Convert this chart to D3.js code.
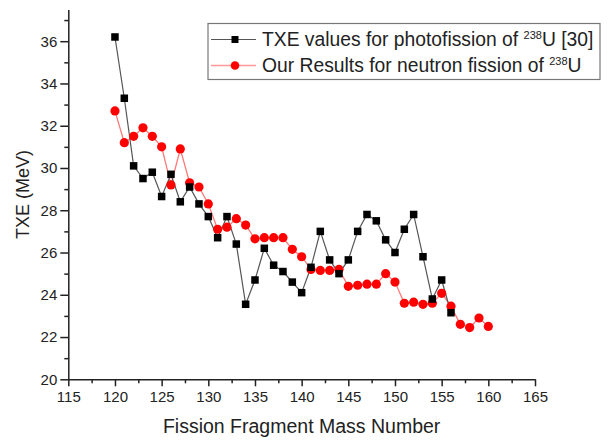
<!DOCTYPE html>
<html>
<head>
<meta charset="utf-8">
<script src="https://cdn.jsdelivr.net/npm/d3@7"></script>
<style>
  body { margin: 0; background: #fff; }
  svg { display: block; font-family: "Liberation Sans", Arial, sans-serif; }
</style>
</head>
<body>
<div id="chart_txe"></div>
<script>
//////// DATA ////////
var photoMass = [120, 121, 122, 123, 124, 125, 126, 127, 128, 129, 130, 131, 132, 133, 134, 135, 136, 137, 138,
                 139, 140, 141, 142, 143, 144, 145, 146, 147, 148, 149, 150, 151, 152, 153, 154, 155, 156];
var photoTXE = [36.2, 33.3, 30.1, 29.5, 29.8, 28.65, 29.7, 28.4, 29.1, 28.3, 27.7, 26.7, 27.7, 26.4, 23.55, 24.7, 26.2, 25.4, 25.1,
                24.6, 24.1, 25.3, 27.0, 25.65, 25.0, 25.65, 27.0, 27.8, 27.5, 26.6, 26.0, 27.1, 27.8, 25.8, 23.8, 24.7, 23.15];

var neutronMass = [120, 121, 122, 123, 124, 125, 126, 127, 128, 129, 130, 131, 132, 133, 134, 135, 136, 137, 138, 139, 140,
                   141, 142, 143, 144, 145, 146, 147, 148, 149, 150, 151, 152, 153, 154, 155, 156, 157, 158, 159, 160];
var neutronTXE = [32.7, 31.2, 31.5, 31.9, 31.5, 31.0, 29.2, 30.9, 29.3, 29.1, 28.3, 27.1, 27.2, 27.6, 27.3, 26.65, 26.7, 26.7, 26.7, 26.15, 25.8,
                  25.2, 25.15, 25.15, 25.2, 24.4, 24.45, 24.5, 24.5, 25.0, 24.6, 23.6, 23.65, 23.55, 23.6, 24.07, 23.46, 22.6, 22.45, 22.9, 22.5];

var xTicks = [115, 120, 125, 130, 135, 140, 145, 150, 155, 160, 165];
var yTicks = [20, 22, 24, 26, 28, 30, 32, 34, 36];

var photoLabel = ["TXE values for photofission of ", "238", "U [30]"];
var neutronLabel = ["Our Results for neutron fission of ", "238", "U"];

//////// CANVAS ////////
var W = 608, H = 441;
var svg = d3.select("#chart_txe").append("svg")
    .attr("width", W)
    .attr("height", H);

//////// SCALES ////////
var xScale = d3.scaleLinear()
    .domain([115, 165])
    .range([68.3, 535]);

var yScale = d3.scaleLinear()
    .domain([20, 37.5])
    .range([379.3, 9.5]);

//////// AXES ////////
// minor ticks first so the major ones sit on top
svg.append("g")
    .attr("transform", "translate(0," + yScale(20) + ")")
    .call(d3.axisBottom(xScale).tickValues(d3.range(117.5, 165, 5)).tickSize(4).tickFormat(""))
    .call(function(g) { g.select(".domain").remove(); });

svg.append("g")
    .attr("transform", "translate(" + xScale(115) + ",0)")
    .call(d3.axisLeft(yScale).tickValues(d3.range(21, 38, 2)).tickSize(4).tickFormat(""))
    .call(function(g) { g.select(".domain").remove(); });

var xAxis = svg.append("g")
    .attr("class", "x axis")
    .attr("transform", "translate(0," + yScale(20) + ")")
    .call(d3.axisBottom(xScale).tickValues(xTicks).tickSize(7).tickSizeOuter(0).tickPadding(5));

var yAxis = svg.append("g")
    .attr("class", "y axis")
    .attr("transform", "translate(" + xScale(115) + ",0)")
    .call(d3.axisLeft(yScale).tickValues(yTicks).tickSize(8).tickSizeOuter(0).tickPadding(3));

svg.selectAll(".axis text")
    .attr("font-family", "Liberation Sans, Arial, sans-serif")
    .attr("font-size", 15)
    .attr("fill", "#222");

svg.selectAll(".tick line, .domain")
    .attr("stroke", "#222")
    .attr("stroke-width", 1.5);

// axis titles
svg.append("text")
    .attr("x", (xScale(115) + xScale(165)) / 2)
    .attr("y", 433)
    .attr("text-anchor", "middle")
    .attr("font-size", 19.5)
    .attr("fill", "#222")
    .text("Fission Fragment Mass Number");

svg.append("text")
    .attr("transform", "translate(29," + (yScale(20) + yScale(37.5)) / 2 + ") rotate(-90)")
    .attr("text-anchor", "middle")
    .attr("font-size", 18)
    .attr("fill", "#222")
    .text("TXE (MeV)");

//////// SERIES ////////
var photoData = photoMass.map(function(m, i) { return {m: m, v: photoTXE[i]}; });
var neutronData = neutronMass.map(function(m, i) { return {m: m, v: neutronTXE[i]}; });

var line = d3.line()
    .x(function(d) { return xScale(d.m); })
    .y(function(d) { return yScale(d.v); });

// red behind, black on top
svg.append("path")
    .datum(neutronData)
    .attr("d", line)
    .attr("fill", "none")
    .attr("stroke", "#ff7a7a")
    .attr("stroke-width", 1.3);

svg.append("path")
    .datum(photoData)
    .attr("d", line)
    .attr("fill", "none")
    .attr("stroke", "#555")
    .attr("stroke-width", 1.2);

svg.append("g")
    .selectAll("circle")
    .data(neutronData)
    .enter().append("circle")
        .attr("cx", function(d) { return xScale(d.m); })
        .attr("cy", function(d) { return yScale(d.v); })
        .attr("r", 4.6)
        .attr("fill", "#ff0000");

var sq = 7.5;
svg.append("g")
    .selectAll("rect")
    .data(photoData)
    .enter().append("rect")
        .attr("x", function(d) { return xScale(d.m) - sq / 2; })
        .attr("y", function(d) { return yScale(d.v) - sq / 2; })
        .attr("width", sq)
        .attr("height", sq)
        .attr("fill", "#000");

//////// LEGEND ////////
var legend = svg.append("g");

legend.append("rect")
    .attr("x", 208)
    .attr("y", 23.5)
    .attr("width", 392)
    .attr("height", 56)
    .attr("fill", "#fff")
    .attr("stroke", "#777")
    .attr("stroke-width", 1.2);

var rows = [
    {label: photoLabel, y: 39.5, kind: "sq"},
    {label: neutronLabel, y: 65.5, kind: "ci"}
];

rows.forEach(function(r) {
    legend.append("line")
        .attr("x1", 211).attr("x2", 256)
        .attr("y1", r.y).attr("y2", r.y)
        .attr("stroke", r.kind == "sq" ? "#555" : "#ff9999")
        .attr("stroke-width", r.kind == "sq" ? 1.2 : 1.5);

    if (r.kind == "sq") {
        legend.append("rect")
            .attr("x", 235 - 3.5).attr("y", r.y - 3.5)
            .attr("width", 7).attr("height", 7)
            .attr("fill", "#000");
    } else {
        legend.append("circle")
            .attr("cx", 235).attr("cy", r.y)
            .attr("r", 4.3)
            .attr("fill", "#ff0000");
    }

    var t = legend.append("text")
        .attr("x", 262)
        .attr("y", r.y + 6.5)
        .attr("font-size", 19.3)
        .attr("fill", "#222");
    t.append("tspan").text(r.label[0]);
    t.append("tspan").attr("dy", -7.5).attr("font-size", 11).text(r.label[1]);
    t.append("tspan").attr("dy", 7.5).text(r.label[2]);
});
</script>
</body>
</html>
